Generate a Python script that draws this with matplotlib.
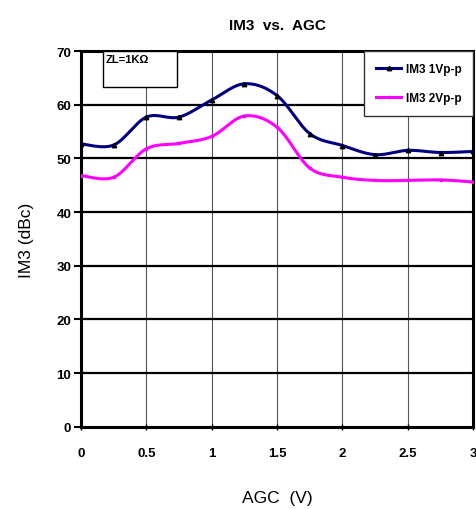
import matplotlib.pyplot as plt
import numpy as np
from matplotlib.patches import Rectangle

plt.rcParams["font.family"] = ["Liberation Sans", "DejaVu Sans"]

# Data
agc_v = [0, 0.25, 0.5, 0.75, 1.0, 1.25, 1.5, 1.75, 2.0, 2.25, 2.5, 2.75, 3.0]
im3_1vpp = [52.7, 52.5, 57.7, 57.7, 60.9, 63.9, 61.7, 54.6, 52.4, 50.7, 51.5, 51.1, 51.3]
im3_2vpp = [46.8, 46.5, 51.8, 52.8, 54.1, 57.9, 55.8, 48.2, 46.5, 45.9, 45.9, 46.0, 45.6]
x_ticks = [0, 0.5, 1, 1.5, 2, 2.5, 3]
x_tick_labels = ["0", "0.5", "1", "1.5", "2", "2.5", "3"]
y_ticks = [0, 10, 20, 30, 40, 50, 60, 70]


def smooth_curve(xs, ys, steps=30):
    """Excel-style smoothed line (Catmull-Rom through the points)."""
    xs = np.asarray(xs, float)
    ys = np.asarray(ys, float)
    pts = np.column_stack([xs, ys])
    pts = np.vstack([pts[0], pts, pts[-1]])
    out = []
    t = np.linspace(0, 1, steps)[:, None]
    for i in range(1, len(pts) - 2):
        p0, p1, p2, p3 = pts[i - 1], pts[i], pts[i + 1], pts[i + 2]
        c1 = p1 + (p2 - p0) / 6
        c2 = p2 - (p3 - p1) / 6
        seg = ((1 - t) ** 3) * p1 + 3 * ((1 - t) ** 2) * t * c1 + 3 * (1 - t) * t ** 2 * c2 + t ** 3 * p2
        out.append(seg)
    out = np.vstack(out)
    return out[:, 0], out[:, 1]


fig = plt.figure(figsize=(4.77, 5.10), dpi=100)
ax = fig.add_axes([0.170, 0.161, 0.822, 0.737])

for xv in x_ticks[1:-1]:
    ax.axvline(xv, color="#555555", lw=0.8, zorder=1)
for yv in y_ticks[1:-1]:
    ax.axhline(yv, color="black", lw=1.6, zorder=1)

sx, sy = smooth_curve(agc_v, im3_1vpp)
ax.plot(sx, sy, color="#000080", lw=2.2, zorder=3)
ax.plot(agc_v, im3_1vpp, ls="none", marker="^", ms=3.2, color="black", zorder=4)

sx, sy = smooth_curve(agc_v, im3_2vpp)
ax.plot(sx, sy, color="#FF00FF", lw=2.2, zorder=3)
ax.plot(agc_v, im3_2vpp, ls="none", marker="s", ms=2, color="#FF00FF", zorder=4)

ax.set_xlim(0, 3)
ax.set_ylim(0, 70)
ax.set_xticks(x_ticks)
ax.set_xticklabels(x_tick_labels)
ax.set_yticks(y_ticks)
for lab in ax.get_xticklabels() + ax.get_yticklabels():
    lab.set_fontweight("bold")
    lab.set_fontsize(9.5)
ax.tick_params(axis="y", direction="out", length=5, width=1.5, pad=2)
ax.tick_params(axis="x", direction="inout", length=5, width=1, pad=12)
for sp in ax.spines.values():
    sp.set_linewidth(2.2)
    sp.set_color("black")

ax.set_title("IM3  vs.  AGC", fontsize=11, fontweight="bold", pad=16)
ax.set_xlabel("AGC  (V)", fontsize=12.5, labelpad=22)
ax.set_ylabel("IM3 (dBc)", fontsize=12.5, labelpad=16)

# ZL annotation box
ax.add_patch(Rectangle((0.17, 63.3), 0.565, 6.7, facecolor="white", edgecolor="black",
                       lw=1, zorder=5))
ax.text(0.19, 69.4, "ZL=1KΩ", fontsize=8, fontweight="bold", va="top", ha="left", zorder=6)

# legend
h1, = ax.plot([], [], color="#000080", lw=2.2, marker="^", ms=3.2, mfc="black", mec="black")
h2, = ax.plot([], [], color="#FF00FF", lw=2.2, marker="s", ms=2)
leg = ax.legend([h1, h2], ["IM3 1Vp-p", "IM3 2Vp-p"], loc="upper right",
                bbox_to_anchor=(1.0, 1.0), fancybox=False, framealpha=1,
                edgecolor="#333333", prop={"weight": "bold", "size": 8.5},
                handlelength=2.2, handletextpad=0.35, labelspacing=1.45,
                borderpad=1.0, borderaxespad=0)
leg.get_frame().set_linewidth(1)
leg.set_zorder(6)

fig.savefig("out.png", dpi=100)
